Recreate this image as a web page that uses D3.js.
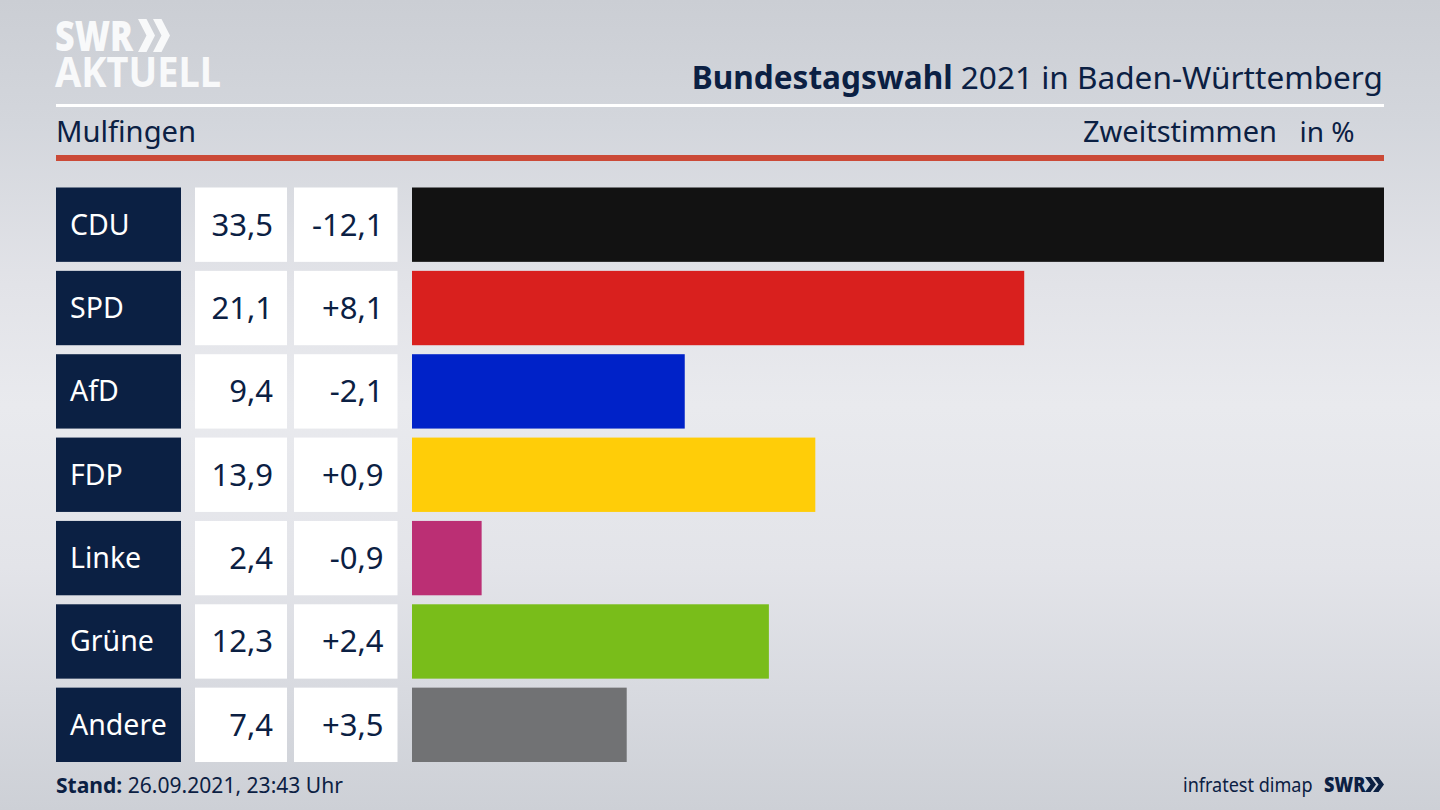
<!DOCTYPE html>
<html><head><meta charset="utf-8">
<script src="https://cdn.jsdelivr.net/npm/d3@7"></script>
<style>
html,body{margin:0;padding:0;width:1440px;height:810px;overflow:hidden;background:#dfe1e6}
svg{display:block}
text{font-family:"Noto Sans",sans-serif}
</style></head><body>
<svg id="c" width="1440" height="810"></svg>
<script>
const parties=["CDU","SPD","AfD","FDP","Linke","Grüne","Andere"];
const shares=[33.5,21.1,9.4,13.9,2.4,12.3,7.4];
const changes=["-12,1","+8,1","-2,1","+0,9","-0,9","+2,4","+3,5"];
const colors=["#121212","#d9201e","#0022c8","#ffcd08","#bb2f74","#79bd1a","#717274"];
const NAVY="#0b2043";
const svg=d3.select("#c");
const defs=svg.append("defs");
const g=defs.append("linearGradient").attr("id","bg").attr("x1",0).attr("x2",0).attr("y1",0).attr("y2",1);
[[0,"#cbced4"],[0.15,"#d3d6dc"],[0.35,"#e2e3e8"],[0.5,"#e9eaee"],[0.7,"#e3e4e9"],[0.85,"#d8dae0"],[1,"#cdd0d6"]].forEach(d=>g.append("stop").attr("offset",d[0]).attr("stop-color",d[1]));
svg.append("rect").attr("width",1440).attr("height",810).attr("fill","url(#bg)");

const x=d3.scaleLinear().domain([0,33.5]).range([412,1384]);
const y=d3.scaleBand().domain(parties).range([187.5,762]).paddingInner(0.108).paddingOuter(0);
const fmt=v=>String(v).replace(".",",");
const rows=svg.selectAll("g.row").data(parties).join("g").attr("class","row");
const bh=y.bandwidth();
rows.append("rect").attr("x",56).attr("width",125).attr("y",d=>y(d)).attr("height",bh).attr("fill",NAVY);
rows.append("rect").attr("x",195).attr("width",92).attr("y",d=>y(d)).attr("height",bh).attr("fill","#fff");
rows.append("rect").attr("x",294).attr("width",103.5).attr("y",d=>y(d)).attr("height",bh).attr("fill","#fff");
rows.append("rect").attr("x",x(0)).attr("y",d=>y(d)).attr("height",bh)
  .attr("width",(d,i)=>x(shares[i])-x(0)).attr("fill",(d,i)=>colors[i]);
rows.append("text").attr("x",70).attr("y",d=>y(d)+bh/2+10).attr("font-size",28.5).attr("fill","#fff").text(d=>d);
rows.append("text").attr("x",273).attr("y",d=>y(d)+bh/2+11).attr("font-size",31).attr("text-anchor","end").attr("fill",NAVY).text((d,i)=>fmt(shares[i]));
rows.append("text").attr("x",383.5).attr("y",d=>y(d)+bh/2+11).attr("font-size",31).attr("text-anchor","end").attr("fill",NAVY).text((d,i)=>changes[i]);

// header rules
svg.append("rect").attr("x",56).attr("y",104).attr("width",1328).attr("height",3).attr("fill","#fff");
svg.append("rect").attr("x",56).attr("y",155).attr("width",1328).attr("height",6).attr("fill","#cb4a37");

const title=svg.append("text").attr("x",1383).attr("y",89).attr("text-anchor","end").attr("font-size",31.55).attr("fill",NAVY);
title.append("tspan").attr("font-weight",700).text("Bundestagswahl");
title.append("tspan").text(" 2021 in Baden-Württemberg");
svg.append("text").attr("x",56).attr("y",142).attr("font-size",29.2).attr("fill",NAVY).text("Mulfingen");
svg.append("text").attr("x",1277).attr("y",142).attr("text-anchor","end").attr("font-size",29).attr("fill",NAVY).text("Zweitstimmen");
svg.append("text").attr("x",1354.5).attr("y",142).attr("text-anchor","end").attr("font-size",28).attr("fill",NAVY).text("in %");

// footer
const st=svg.append("text").attr("x",56).attr("y",793).attr("font-size",22).attr("textLength",287).attr("lengthAdjust","spacingAndGlyphs").attr("fill",NAVY);
st.append("tspan").attr("font-weight",700).text("Stand:");
st.append("tspan").text(" 26.09.2021, 23:43 Uhr");
svg.append("text").attr("transform","translate(1183,792) scale(0.88,1)").attr("font-size",20.5).attr("fill",NAVY).text("infratest dimap");

function chevrons(parent,x0,yt,h,w,gap,fill){
  [0,1].forEach(i=>{
    const a=x0+i*gap;
    parent.append("polygon").attr("fill",fill)
      .attr("points",[[a,yt],[a+w*0.5,yt],[a+w,yt+h/2],[a+w*0.5,yt+h],[a,yt+h],[a+w*0.5,yt+h/2]].map(p=>p.join(",")).join(" "));
  });
}
// SWR footer logo
svg.append("text").attr("transform","translate(1324,792) scale(0.86,1)").attr("font-size",21).attr("font-weight",900).attr("fill",NAVY).text("SWR");
chevrons(svg,1365,777,15,11,8,NAVY);
// SWR AKTUELL logo
const LOGO="#f8f9fa";
svg.append("text").attr("x",55).attr("y",51).attr("font-size",43).attr("font-weight",900).attr("textLength",78).attr("lengthAdjust","spacingAndGlyphs").attr("fill",LOGO).text("SWR");
chevrons(svg,138,19,33,17,15,LOGO);
svg.append("text").attr("x",55).attr("y",87).attr("font-size",42).attr("font-weight",700).attr("textLength",166).attr("lengthAdjust","spacingAndGlyphs").attr("fill",LOGO).text("AKTUELL");
</script></body></html>
